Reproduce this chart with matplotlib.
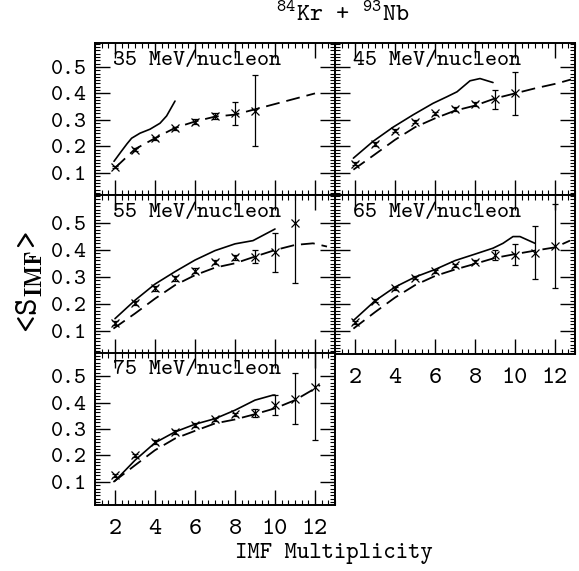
import matplotlib
matplotlib.use("Agg")
import matplotlib.pyplot as plt
from matplotlib.ticker import MultipleLocator, NullFormatter

plt.rcParams['font.family'] = ['cmtt10', 'DejaVu Serif']
plt.rcParams['mathtext.fontset'] = 'custom'
plt.rcParams['mathtext.rm'] = 'cmtt10'
plt.rcParams['mathtext.it'] = 'cmtt10'
plt.rcParams['mathtext.bf'] = 'cmb10'
plt.rcParams['axes.unicode_minus'] = False
plt.rcParams['lines.scale_dashes'] = False

# ---------------- data ----------------
labels = ["35 MeV/nucleon", "45 MeV/nucleon", "55 MeV/nucleon",
          "65 MeV/nucleon", "75 MeV/nucleon"]

x35 = [2, 3, 4, 5, 6, 7, 8, 9]
y35 = [0.122, 0.188, 0.231, 0.269, 0.294, 0.315, 0.325, 0.334]
e35 = [0.005, 0.005, 0.006, 0.006, 0.008, 0.012, 0.044, 0.134]
sx35 = [1.95, 2.3, 2.6, 2.83, 3.25, 3.75, 4.25, 4.58, 5.0]
sy35 = [0.144, 0.18, 0.21, 0.231, 0.25, 0.265, 0.2875, 0.315, 0.371]
dx35 = [2.0, 3, 4, 5, 6, 7, 8, 9, 10, 11, 12]
dy35 = [0.119, 0.19, 0.231, 0.27, 0.294, 0.3125, 0.32, 0.34, 0.36, 0.38, 0.40]

x45 = [2, 3, 4, 5, 6, 7, 8, 9, 10]
y45 = [0.135, 0.209, 0.259, 0.294, 0.325, 0.341, 0.36, 0.3775, 0.40]
e45 = [0.006, 0.006, 0.006, 0.006, 0.006, 0.006, 0.008, 0.036, 0.08]
sx45 = [1.92, 2.9, 3.9, 4.9, 5.9, 6.6, 7.1, 7.75, 8.25, 8.9]
sy45 = [0.156, 0.219, 0.2725, 0.319, 0.3625, 0.3875, 0.406, 0.4475, 0.456, 0.441]
dx45 = [1.92, 2.9, 4, 5, 6, 7, 8, 9, 10, 11, 12.1, 12.8]
dy45 = [0.1125, 0.165, 0.225, 0.2725, 0.306, 0.335, 0.354, 0.381, 0.40, 0.419, 0.4375, 0.4525]

x55 = [2, 3, 4, 5, 6, 7, 8, 9, 10, 11]
y55 = [0.13, 0.204, 0.258, 0.295, 0.324, 0.357, 0.373, 0.376, 0.391, 0.502]
e55 = [0.006, 0.006, 0.008, 0.008, 0.008, 0.008, 0.008, 0.025, 0.071, 0.223]
sx55 = [2, 3, 4, 5, 6, 7, 8, 8.9, 10]
sy55 = [0.146, 0.214, 0.274, 0.32, 0.363, 0.398, 0.423, 0.435, 0.478]
dx55 = [1.92, 3, 4, 5, 6, 7, 8, 9, 10, 11, 11.9, 12.6]
dy55 = [0.109, 0.165, 0.22, 0.27, 0.307, 0.335, 0.351, 0.376, 0.40, 0.419, 0.425, 0.413]

x65 = [2, 3, 4, 5, 6, 7, 8, 9, 10, 11, 12]
y65 = [0.133, 0.212, 0.258, 0.298, 0.322, 0.344, 0.357, 0.383, 0.383, 0.39, 0.416]
e65 = [0.006, 0.006, 0.006, 0.006, 0.006, 0.006, 0.006, 0.018, 0.038, 0.099, 0.156]
sx65 = [1.92, 3, 4, 5, 6, 7, 8, 8.9, 9.4, 9.9, 10.25, 11]
sy65 = [0.139, 0.212, 0.263, 0.30, 0.328, 0.361, 0.385, 0.407, 0.425, 0.45, 0.45, 0.425]
dx65 = [1.92, 3, 4, 5, 6, 7, 8, 9, 10, 11, 12, 12.75]
dy65 = [0.109, 0.17, 0.224, 0.27, 0.304, 0.328, 0.349, 0.371, 0.385, 0.398, 0.41, 0.435]

x75 = [2, 3, 4, 5, 6, 7, 8, 9, 10, 11, 12]
y75 = [0.125, 0.201, 0.251, 0.289, 0.315, 0.337, 0.355, 0.361, 0.39, 0.415, 0.459]
e75 = [0.006, 0.006, 0.006, 0.006, 0.006, 0.006, 0.006, 0.016, 0.038, 0.095, 0.2]
sx75 = [2, 3, 4, 5, 6, 7, 8, 9, 9.9, 10]
sy75 = [0.104, 0.182, 0.248, 0.289, 0.318, 0.339, 0.371, 0.409, 0.428, 0.428]
dx75 = [1.92, 3, 4, 5, 6, 7, 8, 9, 10, 11, 12, 12.25]
dy75 = [0.1, 0.163, 0.22, 0.264, 0.293, 0.321, 0.336, 0.356, 0.378, 0.409, 0.453, 0.466]

xticks = [2, 4, 6, 8, 10, 12]
yticks = [0.1, 0.2, 0.3, 0.4, 0.5]

# ---------------- layout ----------------
W, H = 579, 571
fig = plt.figure(figsize=(W / 100, H / 100), dpi=100)

def rect(x0, x1, y0, y1):
    return [x0 / W, 1 - y1 / H, (x1 - x0) / W, (y1 - y0) / H]

panels = [
    (rect(95, 335, 43, 195), (0.017, 0.59), x35, y35, e35, sx35, sy35, dx35, dy35, labels[0], True, False),
    (rect(335, 575, 43, 195), (0.017, 0.59), x45, y45, e45, sx45, sy45, dx45, dy45, labels[1], False, False),
    (rect(95, 335, 195, 354), (0.015, 0.604), x55, y55, e55, sx55, sy55, dx55, dy55, labels[2], True, False),
    (rect(335, 575, 195, 354), (0.015, 0.604), x65, y65, e65, sx65, sy65, dx65, dy65, labels[3], False, True),
    (rect(95, 335, 353, 505), (0.013, 0.587), x75, y75, e75, sx75, sy75, dx75, dy75, labels[4], True, True),
]

for (r, ylim, x, y, e, sx, sy, dx, dy, lab, ylab, xlab) in panels:
    ax = fig.add_axes(r)
    ax.set_xlim(1, 13)
    ax.set_ylim(*ylim)
    ax.plot(sx, sy, color='black', lw=1.2, solid_capstyle='round')
    ax.plot(dx, dy, color='black', lw=1.3, dashes=(10, 5))
    ax.errorbar(x, y, yerr=e, fmt='x', color='black', ms=6, mew=0.9,
                elinewidth=0.9, capsize=2.5, capthick=0.9)
    ax.text((113 - 95) / 240, 1 - 17 / 152, lab, transform=ax.transAxes,
            ha='left', va='center', fontsize=16.5)
    ax.xaxis.set_major_locator(MultipleLocator(2))
    ax.xaxis.set_minor_locator(MultipleLocator(1 / 3))
    ax.yaxis.set_major_locator(MultipleLocator(0.1))
    ax.yaxis.set_minor_locator(MultipleLocator(0.0125))
    ax.tick_params(which='both', direction='in', top=True, right=True, color='black')
    ax.tick_params(which='major', length=11, width=1.0)
    ax.tick_params(which='minor', length=3.5, width=0.8)
    ax.set_yticks(yticks)
    ax.set_xticks(xticks)
    if ylab:
        ax.set_yticklabels([f"{v:.1f}" for v in yticks], fontsize=16.5)
    else:
        ax.yaxis.set_major_formatter(NullFormatter())
    if xlab:
        ax.set_xticklabels([str(v) for v in xticks], fontsize=18)
        ax.tick_params(axis='x', pad=10)
    else:
        ax.xaxis.set_major_formatter(NullFormatter())
    ax.tick_params(axis='y', pad=6)
    for s in ax.spines.values():
        s.set_linewidth(1.4)

fig.text(343 / W, 1 - 15 / H, r'$^{84}$Kr + $^{93}$Nb', ha='center', va='center', fontsize=18)
fig.text(334 / W, 1 - 553 / H, 'IMF Multiplicity', ha='center', va='center', fontsize=17)
fig.text(30 / W, 1 - 282 / H, r'<S$_{\mathbf{IMF}}$>', ha='center', va='center',
         rotation=90, fontsize=24)

fig.savefig('out.png', dpi=100, facecolor='white')
